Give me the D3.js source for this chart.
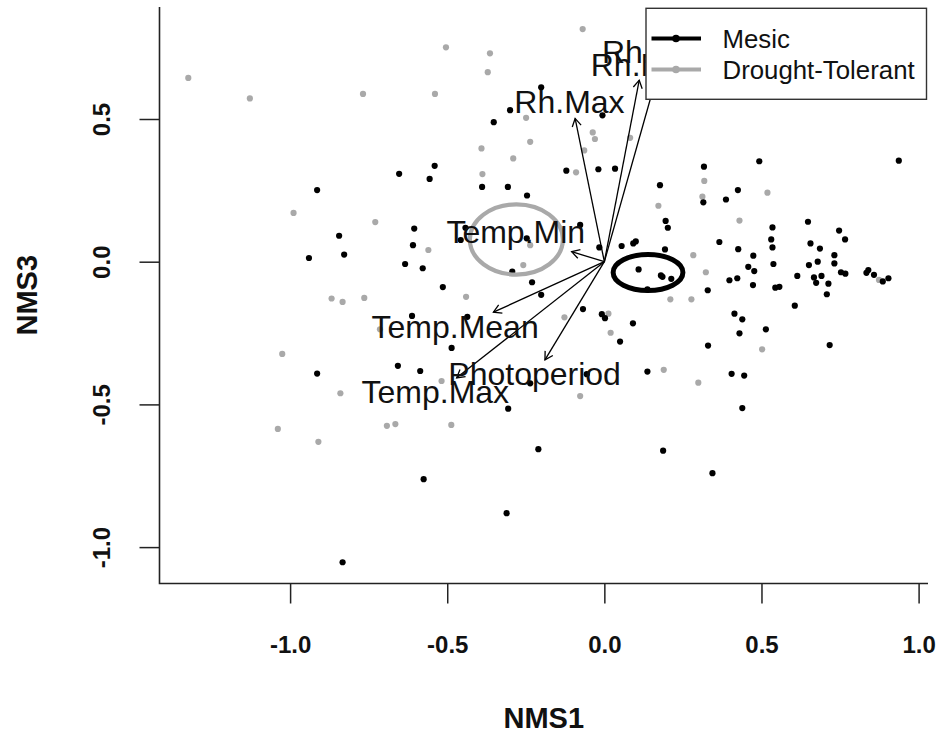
<!DOCTYPE html>
<html>
<head>
  <meta charset="utf-8">
  <title>NMS ordination</title>
  <script src="https://d3js.org/d3.v7.min.js"></script>
  <style>
    body { margin: 0; background: #fff; }
    text { font-family: "Liberation Sans", Arial, sans-serif; }
  </style>
</head>

<body>
<div id="chart"></div>
<script type="text/javascript">
  let w = 937;
  let h = 740;

  // site scores (NMS1, NMS3)
  let mesic = [
    [-0.201, 0.611], [-0.300, 0.531], [-0.352, 0.489], [-0.006, 0.513], [-0.121, 0.319],
    [-0.019, 0.324], [-0.540, 0.336], [-0.653, 0.308], [-0.556, 0.290], [-0.389, 0.262],
    [-0.307, 0.262], [-0.246, 0.232], [-0.914, 0.251], [-0.844, 0.091], [-0.828, 0.025],
    [-0.940, 0.013], [-0.605, 0.116], [-0.609, 0.058], [-0.634, -0.008], [-0.578, -0.023],
    [-0.514, -0.089], [-0.442, 0.119], [-0.457, 0.076], [-0.247, 0.082], [-0.293, -0.035],
    [-0.230, -0.072], [-0.201, -0.116], [-0.016, 0.050], [-0.077, 0.129], [0.034, 0.326],
    [0.317, 0.333], [0.493, 0.352], [0.937, 0.354], [0.177, 0.268], [0.425, 0.251],
    [0.387, 0.218], [0.315, 0.208], [0.195, 0.143], [0.202, 0.119], [0.535, 0.120],
    [0.648, 0.140], [0.747, 0.109], [0.766, 0.078], [0.531, 0.078], [0.535, 0.050],
    [0.366, 0.069], [0.426, 0.044], [0.474, 0.021], [0.656, 0.064], [0.686, 0.046],
    [0.732, 0.023], [0.732, -0.006], [0.679, 0.000], [0.651, -0.012], [0.538, -0.008],
    [0.458, -0.018], [0.477, -0.033], [0.055, 0.055], [0.092, 0.064], [0.100, 0.071],
    [0.193, 0.043], [0.109, -0.027], [0.180, -0.048], [0.185, -0.053], [0.213, -0.060],
    [0.137, -0.097], [0.329, -0.100], [0.398, -0.065], [0.423, -0.058], [0.473, -0.082],
    [0.544, -0.091], [0.557, -0.088], [0.614, -0.050], [0.667, -0.055], [0.674, -0.074],
    [0.691, -0.050], [0.713, -0.077], [0.708, -0.114], [0.753, -0.037], [0.767, -0.042],
    [0.834, -0.039], [0.840, -0.029], [0.858, -0.046], [0.886, -0.069], [0.904, -0.058],
    [0.606, -0.154], [0.414, -0.182], [0.439, -0.202], [0.430, -0.251], [0.514, -0.237],
    [0.330, -0.294], [0.717, -0.292], [-0.008, -0.184], [0.002, -0.198], [0.091, -0.216],
    [0.050, -0.280], [0.137, -0.385], [0.405, -0.393], [0.445, -0.399], [0.439, -0.513],
    [0.187, -0.662], [0.344, -0.741], [-0.068, -0.166], [-0.612, -0.190], [-0.436, -0.193],
    [-0.486, -0.302], [-0.657, -0.365], [-0.586, -0.383], [-0.914, -0.392], [-0.236, -0.426],
    [-0.056, -0.394], [-0.306, -0.515], [-0.210, -0.657], [-0.575, -0.762], [-0.311, -0.881],
    [-0.833, -1.053]
  ];

  let drought = [
    [-1.324, 0.644], [-1.128, 0.572], [-0.768, 0.588], [-0.539, 0.588], [-0.504, 0.751],
    [-0.364, 0.730], [-0.371, 0.664], [-0.069, 0.815], [-0.249, 0.504], [-0.236, 0.420],
    [-0.391, 0.397], [-0.290, 0.362], [-0.388, 0.307], [-0.037, 0.453], [-0.030, 0.430],
    [-0.064, 0.390], [-0.090, 0.313], [-0.989, 0.171], [-0.729, 0.139], [-0.560, 0.041],
    [-0.236, 0.058], [-0.258, -0.012], [-0.440, -0.123], [-0.868, -0.129], [-0.833, -0.141],
    [-0.764, -0.127], [0.082, 0.434], [0.318, 0.283], [0.312, 0.228], [0.172, 0.196],
    [0.519, 0.242], [0.430, 0.144], [0.283, 0.023], [0.323, -0.037], [0.210, -0.132],
    [0.277, -0.132], [0.013, -0.182], [0.020, -0.249], [0.502, -0.307], [0.189, -0.379],
    [0.299, -0.424], [0.874, -0.064], [-0.714, -0.237], [-1.025, -0.323], [-0.840, -0.461],
    [-1.039, -0.586], [-0.910, -0.631], [-0.692, -0.575], [-0.665, -0.569], [-0.487, -0.572],
    [-0.518, -0.418], [-0.127, -0.195], [-0.077, -0.471]
  ];

  // fitted environmental vectors and where their labels sit
  let envNames = ['Rh.Mean', 'Rh.Min', 'Rh.Max', 'Temp.Min', 'Temp.Mean', 'Temp.Max', 'Photoperiod'];
  let envX     = [0.174, 0.111, -0.093, -0.104, -0.353, -0.470, -0.189];
  let envY     = [0.678, 0.636, 0.502, 0.035, -0.177, -0.407, -0.344];
  let labelX   = [0.199, 0.118, -0.111, -0.282, -0.475, -0.538, -0.222];
  let labelY   = [0.735, 0.692, 0.563, 0.107, -0.228, -0.456, -0.391];

  // group ellipses: centre and radii
  let groups  = ['Mesic', 'Drought-Tolerant'];
  let ellCX   = [0.139, -0.280];
  let ellCY   = [-0.038, 0.078];
  let ellRX   = [0.111, 0.148];
  let ellRY   = [0.063, 0.123];

  let xTicks = [-1.0, -0.5, 0.0, 0.5, 1.0];
  let yTicks = [-1.0, -0.5, 0.0, 0.5];

  let colors = ['#000000', '#a9a9a9'];

  let pLeft = 159.5, pRight = 928, pTop = 7, pBottom = 583.5;

  let xScale = d3.scaleLinear()
                .domain([-1, 1])
                .range([290.1, 918.6]);

  let yScale = d3.scaleLinear()
                .domain([-1, 0.5])
                .range([547.1, 119]);

  let svg = d3.select('#chart')
              .append('svg')
              .attr('width', w)
              .attr('height', h);

  // points
  svg.append('g').selectAll('circle')
     .data(drought)
     .enter()
     .append('circle')
     .attr('cx', ([x, y]) => xScale(x))
     .attr('cy', ([x, y]) => yScale(y))
     .attr('r', 3.1)
     .attr('fill', colors[1]);

  svg.append('g').selectAll('circle')
     .data(mesic)
     .enter()
     .append('circle')
     .attr('cx', ([x, y]) => xScale(x))
     .attr('cy', ([x, y]) => yScale(y))
     .attr('r', 3.1)
     .attr('fill', colors[0]);

  // ellipses
  svg.append('g').selectAll('ellipse')
     .data(groups)
     .enter()
     .append('ellipse')
     .attr('cx', (d, i) => xScale(ellCX[i]))
     .attr('cy', (d, i) => yScale(ellCY[i]))
     .attr('rx', (d, i) => xScale(ellCX[i] + ellRX[i]) - xScale(ellCX[i]))
     .attr('ry', (d, i) => yScale(ellCY[i]) - yScale(ellCY[i] + ellRY[i]))
     .attr('fill', 'none')
     .attr('stroke', (d, i) => colors[i])
     .attr('stroke-width', (d, i) => i == 0 ? 5 : 4.2);

  // arrows
  let arrows = svg.append('g')
                  .attr('stroke', '#000')
                  .attr('stroke-width', 1.3)
                  .attr('fill', 'none');
  envNames.forEach((name, i) => {
    let x0 = xScale(0), y0 = yScale(0);
    let x1 = xScale(envX[i]), y1 = yScale(envY[i]);
    let a = Math.atan2(y1 - y0, x1 - x0);
    let hl = 9, ha = Math.PI / 6;
    arrows.append('line')
          .attr('x1', x0).attr('y1', y0)
          .attr('x2', x1).attr('y2', y1);
    arrows.append('path')
          .attr('d', 'M' + (x1 - hl * Math.cos(a - ha)) + ',' + (y1 - hl * Math.sin(a - ha)) +
                     'L' + x1 + ',' + y1 +
                     'L' + (x1 - hl * Math.cos(a + ha)) + ',' + (y1 - hl * Math.sin(a + ha)));
  });

  // vector labels
  svg.append('g').selectAll('text')
     .data(envNames)
     .enter()
     .append('text')
     .attr('x', (d, i) => xScale(labelX[i]))
     .attr('y', (d, i) => yScale(labelY[i]) + 11.5)
     .attr('text-anchor', 'middle')
     .attr('font-size', '32px')
     .attr('fill', '#111')
     .text(d => d);

  // axes
  let xAxis = d3.axisBottom(xScale)
                .tickValues(xTicks)
                .tickFormat(d => d.toFixed(1))
                .tickSize(20);
  let gx = svg.append('g')
              .attr('transform', `translate(0,${pBottom})`)
              .call(xAxis);
  gx.select('.domain').remove();
  gx.selectAll('line').attr('stroke', '#222').attr('stroke-width', 1.5);
  gx.selectAll('text')
    .attr('y', 69.5)
    .attr('dy', null)
    .attr('font-size', '24px')
    .attr('font-weight', 'bold')
    .attr('fill', '#111');

  let yAxis = d3.axisLeft(yScale)
                .tickValues(yTicks)
                .tickFormat(d => d.toFixed(1))
                .tickSize(20);
  let gy = svg.append('g')
              .attr('transform', `translate(${pLeft},0)`)
              .call(yAxis);
  gy.select('.domain').remove();
  gy.selectAll('line').attr('stroke', '#222').attr('stroke-width', 1.5);
  gy.selectAll('text')
    .attr('transform', 'rotate(-90)')
    .attr('x', 0)
    .attr('y', -49.5)
    .attr('dy', null)
    .attr('text-anchor', 'middle')
    .attr('font-size', '24px')
    .attr('font-weight', 'bold')
    .attr('fill', '#111');

  // L-shaped frame
  svg.append('path')
     .attr('d', `M${pLeft},${pTop}V${pBottom}H${pRight}`)
     .attr('fill', 'none')
     .attr('stroke', '#222')
     .attr('stroke-width', 1.6);

  // axis titles
  svg.append('text')
     .attr('x', (pLeft + pRight) / 2)
     .attr('y', 728)
     .attr('text-anchor', 'middle')
     .attr('font-size', '29px')
     .attr('font-weight', 'bold')
     .attr('fill', '#111')
     .text('NMS1');

  svg.append('text')
     .attr('transform', `translate(36.5,${(pTop + pBottom) / 2}) rotate(-90)`)
     .attr('text-anchor', 'middle')
     .attr('font-size', '29px')
     .attr('font-weight', 'bold')
     .attr('fill', '#111')
     .text('NMS3');

  // legend
  let legend = svg.append('g');
  legend.append('rect')
        .attr('x', 646).attr('y', 8.3)
        .attr('width', 280.5).attr('height', 91)
        .attr('fill', '#fff')
        .attr('stroke', '#333')
        .attr('stroke-width', 1.4);
  let items = legend.selectAll('g.item')
        .data(groups)
        .enter()
        .append('g')
        .attr('class', 'item')
        .attr('transform', (d, i) => `translate(0,${38.5 + i * 31})`);
  items.append('line')
       .attr('x1', 651.5).attr('x2', 701)
       .attr('stroke', (d, i) => colors[i])
       .attr('stroke-width', 4);
  items.append('circle')
       .attr('cx', 676).attr('r', 3.8)
       .attr('fill', (d, i) => colors[i]);
  items.append('text')
       .attr('x', 722.5).attr('y', 9.8)
       .attr('font-size', '25.8px')
       .attr('fill', '#111')
       .text(d => d);
</script>
</body>
</html>
